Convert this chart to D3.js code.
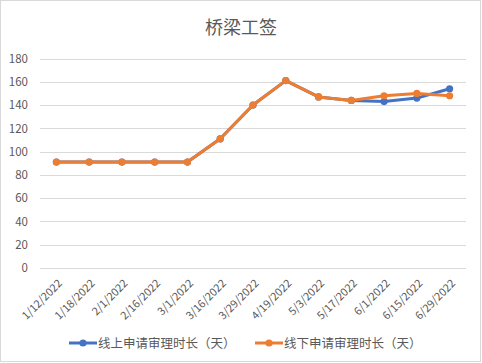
<!DOCTYPE html>
<html>
<head>
<meta charset="utf-8">
<script src="https://cdn.jsdelivr.net/npm/d3@7"></script>
<style>
  body { margin: 0; background: #fff; }
  svg { display: block; font-family: "Noto Sans CJK SC", "Noto Sans", sans-serif; }
</style>
</head>
<body>
<svg></svg>
<script>
const width = 482, height = 363;

const dates = ["1/12/2022", "1/18/2022", "2/1/2022", "2/16/2022", "3/1/2022", "3/16/2022",
    "3/29/2022", "4/19/2022", "5/3/2022", "5/17/2022", "6/1/2022", "6/15/2022", "6/29/2022"];
const online = [91, 91, 91, 91, 91, 111, 140, 161, 147, 144, 143, 146, 154];
const offline = [91, 91, 91, 91, 91, 111, 140, 161, 147, 144, 148, 150, 148];
const yTicks = [0, 20, 40, 60, 80, 100, 120, 140, 160, 180];
const seriesNames = ["线上申请审理时长（天）", "线下申请审理时长（天）"];
const colors = ["#4472C4", "#ED7D31"];

const svg = d3.select("svg").attr("width", width).attr("height", height);

// chart border
svg.append("rect")
    .attr("x", 0.5).attr("y", 0.5)
    .attr("width", width - 2).attr("height", height - 2)
    .attr("fill", "#fff").attr("stroke", "#d9d9d9");

svg.append("text")
    .attr("x", 241).attr("y", 34)
    .attr("text-anchor", "middle")
    .attr("font-size", 18)
    .attr("fill", "#595959")
    .text("桥梁工签");

const plot = {left: 40, right: 466, top: 58.5, bottom: 268};

const x = d3.scalePoint().domain(dates).range([plot.left, plot.right]).padding(0.5);
const y = d3.scaleLinear().domain([0, 180]).range([plot.bottom, plot.top]);

// gridlines
svg.append("g").selectAll("line")
    .data(yTicks)
    .join("line")
    .attr("x1", plot.left).attr("x2", plot.right)
    .attr("y1", d => Math.round(y(d)) + 0.5).attr("y2", d => Math.round(y(d)) + 0.5)
    .attr("stroke", "#d9d9d9");

// y axis labels
const yAxis = d3.axisLeft(y).tickValues(yTicks).tickSize(0).tickPadding(0);
svg.append("g")
    .attr("transform", `translate(28,0)`)
    .call(yAxis)
    .call(g => g.select(".domain").remove())
    .call(g => g.selectAll("text")
        .attr("font-size", 11.5)
        .attr("fill", "#595959")
        .attr("font-family", "Noto Sans CJK SC"));

// x axis labels
const xAxis = d3.axisBottom(x).tickSize(0).tickPadding(0);
svg.append("g")
    .attr("transform", `translate(0,${plot.bottom})`)
    .call(xAxis)
    .call(g => g.select(".domain").remove())
    .call(g => g.selectAll("text")
        .attr("font-size", 11)
        .attr("fill", "#595959")
        .attr("font-family", "Noto Sans CJK SC")
        .attr("text-anchor", "end")
        .attr("dy", null)
        .attr("y", 0)
        .attr("transform", "translate(6,16) rotate(-45)"));

const series = [online, offline];
const line = d3.line().x((d, i) => x(dates[i])).y(d => y(d));

series.forEach((s, k) => {
    svg.append("path")
        .datum(s)
        .attr("fill", "none")
        .attr("stroke", colors[k])
        .attr("stroke-width", 3)
        .attr("stroke-linejoin", "round")
        .attr("d", line);
    svg.append("g").selectAll("circle")
        .data(s)
        .join("circle")
        .attr("cx", (d, i) => x(dates[i]))
        .attr("cy", d => y(d))
        .attr("r", 3.6)
        .attr("fill", colors[k]);
});

// legend
const legendX = [69, 255];
seriesNames.forEach((name, k) => {
    const g = svg.append("g").attr("transform", `translate(${legendX[k]},343)`);
    g.append("line").attr("x1", 0).attr("x2", 28).attr("y1", 0).attr("y2", 0)
        .attr("stroke", colors[k]).attr("stroke-width", 3);
    g.append("circle").attr("cx", 14).attr("cy", 0).attr("r", 3.6).attr("fill", colors[k]);
    g.append("text").attr("x", 29).attr("y", 4.5)
        .attr("font-size", 12.5).attr("fill", "#595959")
        .text(name);
});
</script>
</body>
</html>
